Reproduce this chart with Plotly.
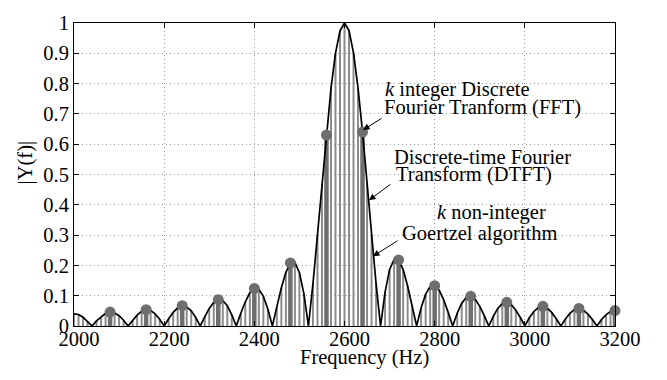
import plotly.graph_objects as go

# ---------------- data ----------------
goertzel_freq = list(range(2000, 3201, 10))          # Hz, k non-integer bins
goertzel_mag = [
    0.040, 0.038, 0.029, 0.016, 0.0,
    0.017, 0.031, 0.042, 0.046, 0.043, 0.034, 0.019, 0.0,
    0.019, 0.036, 0.049, 0.054, 0.051, 0.040, 0.022, 0.0,
    0.024, 0.045, 0.060, 0.067, 0.063, 0.050, 0.028, 0.0,
    0.030, 0.058, 0.078, 0.087, 0.084, 0.067, 0.037, 0.0,
    0.042, 0.080, 0.110, 0.124, 0.121, 0.098, 0.056, 0.0,
    0.064, 0.126, 0.177, 0.208, 0.210, 0.176, 0.106, 0.0,
    0.139, 0.300, 0.470, 0.630, 0.784, 0.900, 0.974,
    1.000,
    0.975, 0.901, 0.786, 0.640, 0.473, 0.302, 0.140, 0.0,
    0.112, 0.186, 0.220, 0.218, 0.186, 0.132, 0.067, 0.0,
    0.060, 0.105, 0.130, 0.133, 0.118, 0.086, 0.045, 0.0,
    0.042, 0.075, 0.094, 0.098, 0.088, 0.065, 0.034, 0.0,
    0.032, 0.058, 0.074, 0.078, 0.070, 0.052, 0.028, 0.0,
    0.027, 0.048, 0.061, 0.065, 0.059, 0.044, 0.023, 0.0,
    0.023, 0.042, 0.054, 0.058, 0.052, 0.039, 0.021, 0.0,
    0.021, 0.037, 0.048, 0.051,
]
assert len(goertzel_mag) == len(goertzel_freq)

fft_freq = list(range(2080, 3201, 80))               # Hz, k integer bins
fft_mag = [0.046, 0.054, 0.067, 0.087, 0.124, 0.208, 0.630,
           0.640, 0.218, 0.133, 0.098, 0.078, 0.065, 0.058, 0.051]

x_ticks = [2000, 2200, 2400, 2600, 2800, 3000, 3200]
y_ticks = [0, 0.1, 0.2, 0.3, 0.4, 0.5, 0.6, 0.7, 0.8, 0.9, 1]
y_tick_labels = ["0", "0.1", "0.2", "0.3", "0.4", "0.5", "0.6", "0.7", "0.8", "0.9", "1"]

x_title = "Frequency (Hz)"
y_title = "|Y(f)|"
label_fft = ["<i>k</i> integer Discrete", "Fourier Tranform (FFT)"]
label_dtft = ["Discrete-time Fourier", "Transform (DTFT)"]
label_goertzel = ["<i>k</i> non-integer", "Goertzel algorithm"]

# ---------------- styling / geometry ----------------
W, H = 667, 380
ML, MR, MT, MB = 74, 52, 13, 54
FONT = "Liberation Serif, Times New Roman, Times, DejaVu Serif, serif"
FS = 20.5
PW, PH = W - ML - MR, H - MB - MT


def px2x(px):
    return x_ticks[0] + (px - ML) * (x_ticks[-1] - x_ticks[0]) / PW


def py2y(py):
    return (H - MB - py) / PH


def px2paper(px):
    return (px - ML) / PW


def stems(xs, ys):
    sx, sy = [], []
    for x, y in zip(xs, ys):
        sx += [x, x, None]
        sy += [0, y, None]
    return sx, sy


fig = go.Figure()

gx, gy = stems(goertzel_freq, goertzel_mag)
fig.add_trace(go.Scatter(x=gx, y=gy, mode="lines",
                         line=dict(color="#8c8c8c", width=2),
                         hoverinfo="skip", showlegend=False))

fx, fy = stems(fft_freq, fft_mag)
fig.add_trace(go.Scatter(x=fx, y=fy, mode="lines",
                         line=dict(color="#6e6e6e", width=4.5),
                         hoverinfo="skip", showlegend=False))

fig.add_trace(go.Scatter(x=goertzel_freq, y=goertzel_mag, mode="lines",
                         line=dict(color="black", width=1.7),
                         showlegend=False))

fig.add_trace(go.Scatter(x=fft_freq, y=fft_mag, mode="markers",
                         marker=dict(color="#6e6e6e", size=11),
                         cliponaxis=False, showlegend=False))

annotations = []


def text_ann(txt, px, py, anchor):
    annotations.append(dict(text=txt, x=px2x(px), y=py2y(py), xref="x", yref="y",
                            xanchor=anchor, yanchor="middle", showarrow=False,
                            borderpad=0, font=dict(family=FONT, size=FS, color="black")))


def arrow_ann(tip, tail):
    annotations.append(dict(text="", x=px2x(tip[0]), y=py2y(tip[1]), xref="x", yref="y",
                            ax=tail[0] - tip[0], ay=tail[1] - tip[1],
                            showarrow=True, arrowhead=2, arrowsize=1.3, arrowwidth=1,
                            arrowcolor="black", standoff=0))


text_ann(label_fft[0], 384, 82, "left")
text_ann(label_fft[1], 383, 100.5, "left")
text_ann(label_dtft[0], 393, 151, "left")
text_ann(label_dtft[1], 395, 170, "left")
text_ann(label_goertzel[0], 491, 209, "center")
text_ann(label_goertzel[1], 479, 230, "center")

arrow_ann((363, 123.5), (383, 111))
arrow_ann((369, 196), (392, 179))
arrow_ann((373, 254), (399, 237.5))

annotations.append(dict(text=x_title, x=px2paper(364), y=py2y(359), xref="paper", yref="paper",
                        xanchor="center", yanchor="middle", showarrow=False,
                        font=dict(family=FONT, size=FS, color="black")))
annotations.append(dict(text=y_title, x=px2paper(25), y=py2y(157), xref="paper", yref="paper",
                        xanchor="center", yanchor="middle", showarrow=False, textangle=-90,
                        font=dict(family=FONT, size=FS, color="black")))

axis_common = dict(showgrid=True, gridcolor="#9a9a9a", griddash="1px,3px", gridwidth=1,
                   showline=True, mirror="ticks", linecolor="black", linewidth=1,
                   ticks="inside", ticklen=5, tickcolor="black", tickwidth=1,
                   zeroline=False,
                   tickfont=dict(family=FONT, size=FS, color="black"))

fig.update_layout(
    width=W, height=H,
    margin=dict(l=ML, r=MR, t=MT, b=MB, pad=0),
    paper_bgcolor="white", plot_bgcolor="white",
    font=dict(family=FONT, size=FS, color="black"),
    xaxis=dict(range=[x_ticks[0], x_ticks[-1]], tickvals=x_ticks,
               ticklabelshift=5, ticklabelstandoff=-6, **axis_common),
    yaxis=dict(range=[0, 1], tickvals=y_ticks, ticktext=y_tick_labels, **axis_common),
    annotations=annotations,
    showlegend=False,
)

fig.write_html("out.html")
